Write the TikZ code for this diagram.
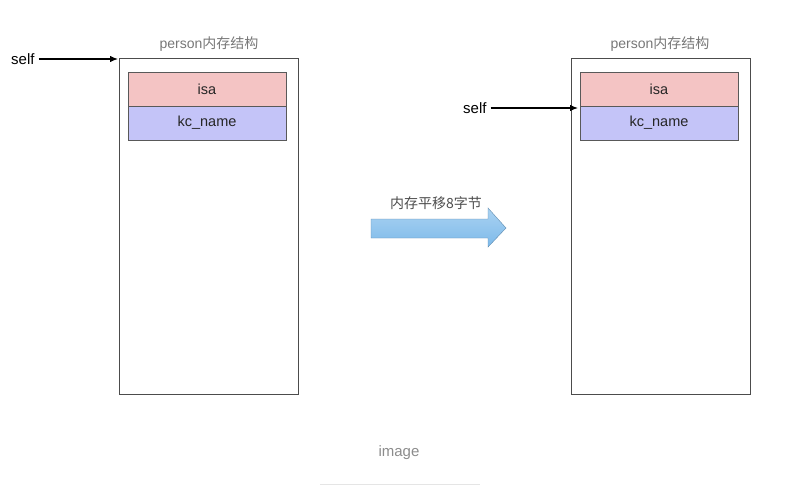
\documentclass[tikz,border=0pt]{standalone}
\usepackage{fontspec}
\setmainfont{Liberation Sans}
\newfontfamily\cjk{Noto Sans CJK SC}
\usetikzlibrary{arrows.meta}
\definecolor{titlegray}{HTML}{777777}
\definecolor{isapink}{HTML}{F4C4C4}
\definecolor{namelav}{HTML}{C4C4F8}
\definecolor{arrowblue}{HTML}{7DBAEA}
\tikzset{
  outerbox/.style={draw=black!70, line width=0.8pt, minimum width=179pt, minimum height=336pt, inner sep=0pt},
  rowbox/.style={draw=black!65, line width=0.7pt, minimum width=158pt, minimum height=34pt, inner sep=0pt, text=black!85, font=\fontsize{14.5}{17}\selectfont},
  isarow/.style={rowbox, fill=isapink},
  namerow/.style={rowbox, fill=namelav},
  titletext/.style={text=titlegray, font=\fontsize{14}{17}\selectfont, inner sep=0pt},
  selftext/.style={text=black, font=\fontsize{15}{18}\selectfont, inner sep=0pt},
  ptr/.style={-{Latex[length=8pt,width=6.5pt]}, line width=1.2pt, black, shorten <=4pt},
}
\begin{document}
\begin{tikzpicture}[x=1pt,y=-1pt]
\useasboundingbox (0,0) rectangle (790,495);
% left structure
\node[outerbox] (lbox) at (208.5,226) {};
\node[isarow] (lisa) at (207,89) {isa};
\node[namerow] (lname) at (207,123) {kc\_name};
\node[titletext] (ltitle) at (209,44) {person{\cjk 内存结构}};
\node[selftext, anchor=west] (lself) at (11,59.5) {self};
\coordinate (ltip) at (118,59);
\draw[ptr] (lself.east |- ltip) -- (ltip);
% right structure
\node[outerbox] (rbox) at (660.5,226) {};
\node[isarow] (risa) at (659,89) {isa};
\node[namerow] (rname) at (659,123) {kc\_name};
\node[titletext] (rtitle) at (660,44) {person{\cjk 内存结构}};
\node[selftext, anchor=west] (rself) at (463,108) {self};
\coordinate (rtip) at (578,108);
\draw[ptr] (rself.east |- rtip) -- (rtip);
% big arrow
\coordinate (shift) at (438.5,228);
\shade[top color=arrowblue!65, bottom color=arrowblue, draw=arrowblue!75!black, line width=0.4pt]
  (371,219) -- (488,219) -- (488,208) -- (506,228) -- (488,247) -- (488,238) -- (371,238) -- cycle;
\node[titletext, text=black!70, font=\fontsize{14}{17}\selectfont\cjk] (shiftlbl) at (436,203) {内存平移8字节};
% caption
\node[text=black!45, font=\fontsize{15}{18}\selectfont, inner sep=0pt] (cap) at (399,453) {image};
\coordinate (capl) at (320,484);
\coordinate (capr) at (480,484);
\draw[black!10, line width=0.8pt] (capl) -- (capr);
\end{tikzpicture}
\end{document}
